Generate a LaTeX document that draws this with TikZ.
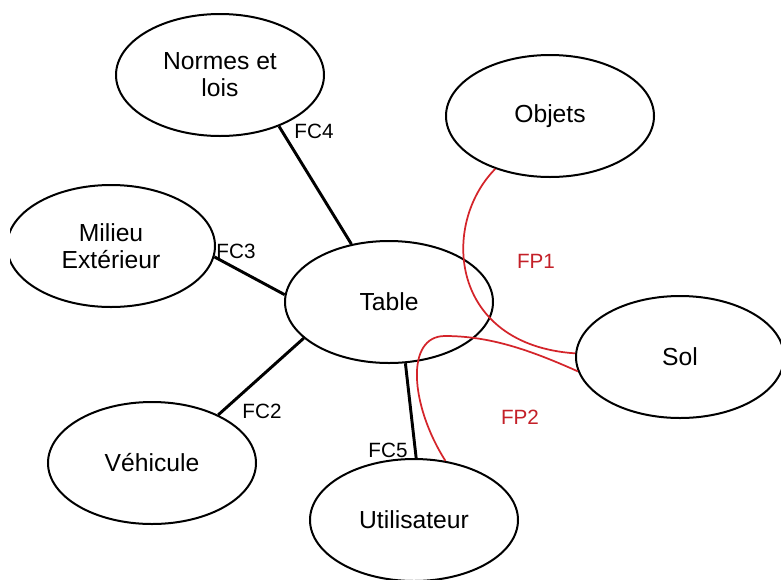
\documentclass[tikz,border=0pt]{standalone}
\usepackage{fontspec}
\setmainfont{Liberation Sans}
\usetikzlibrary{shapes.geometric}
\definecolor{fpred}{RGB}{212,36,42}
\definecolor{fptext}{RGB}{196,32,40}
\begin{document}
\begin{tikzpicture}[x=0.75pt,y=-0.75pt,
  actor/.style={ellipse, draw, line width=1.5pt, minimum width=156pt,
    minimum height=91.5pt, inner sep=0pt, align=center,
    font=\fontsize{18.5}{20.25}\selectfont},
  fcline/.style={line width=2.2pt},
  fpline/.style={draw=fpred, line width=1.3pt},
  fclabel/.style={font=\fontsize{15.5}{18}\selectfont, inner sep=0pt},
  fplabel/.style={fclabel, text=fptext}]
  % canvas
  \fill[white] (0,0) rectangle (781,579);
  \useasboundingbox (0,0) rectangle (781,579);
  \begin{scope}
    \clip (10,0) rectangle (781,579);
    % environment elements around the product
    \node[actor] (normes) at (220,75) {Normes et\\lois};
    \node[actor] (milieu) at (111,246) {Milieu\\Extérieur};
    \node[actor] (table) at (389,302) {Table};
    \node[actor] (objets) at (550,116) {Objets};
    \node[actor] (sol) at (680,357) {Sol};
    \node[actor] (vehicule) at (152,463) {Véhicule};
    \node[actor] (user) at (414,520) {Utilisateur};
    % constraint functions
    \draw[fcline] (table.123.5) -- (normes.-41.9);
    \draw[fcline] (table.176.7) -- (milieu.-6.8);
    \draw[fcline] (table.-157) -- (vehicule.36);
    \draw[fcline] (table.-75.3) -- (user.88);
    % principal functions
    \draw[fpline] (objets.-136.6) .. controls (440,225) and (450,345) .. (sol.178);
    \draw[fpline] (user.62) .. controls (410,405) and (405,336) .. (445,336)
                 .. controls (490,336) and (530,350) .. (sol.188.5);
  \end{scope}
  % function labels
  \node[fclabel] (lfc4) at (314,131) {FC4};
  \node[fclabel] (lfc3) at (236,251) {FC3};
  \node[fclabel] (lfc2) at (262,411) {FC2};
  \node[fclabel] (lfc5) at (388,450) {FC5};
  \node[fplabel] (lfp1) at (536,261) {FP1};
  \node[fplabel] (lfp2) at (520,417) {FP2};
\end{tikzpicture}
\end{document}
